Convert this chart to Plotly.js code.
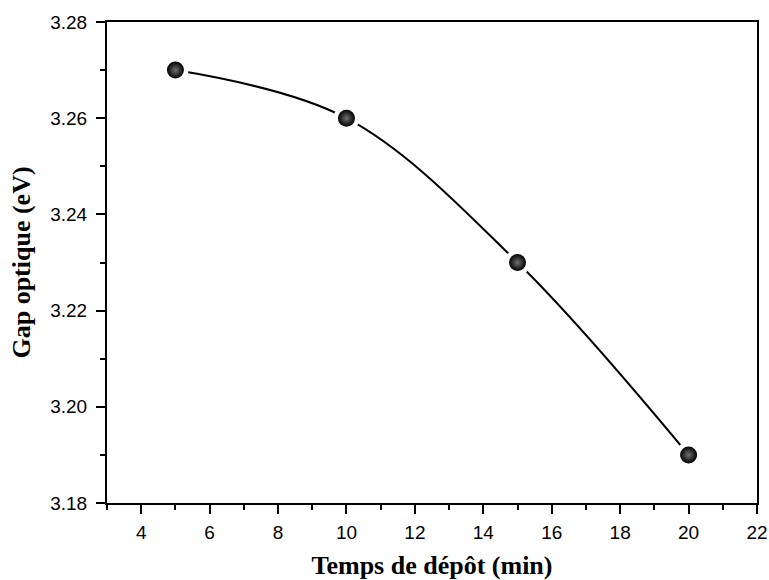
<!DOCTYPE html>
<html>
<head>
<meta charset="utf-8">
<script src="https://cdn.plot.ly/plotly-3.0.1.min.js"></script>
<style>html,body{margin:0;padding:0;background:#fff;}#chart{width:769px;height:580px;}</style>
</head>
<body>
<div id="chart"></div>
<script>
const depositTime = [5, 10, 15, 20];
const opticalGap = [3.27, 3.26, 3.23, 3.19];
const xTitle = 'Temps de dépôt (min)';
const yTitle = 'Gap optique (eV)';

const traces = [
  {
    x: depositTime, y: opticalGap, type: 'scatter', mode: 'lines+markers',
    line: {shape: 'spline', smoothing: 1, color: '#000', width: 2},
    marker: {size: 26, color: '#fff', line: {width: 0}},
    hoverinfo: 'skip', showlegend: false
  },
  {
    x: depositTime, y: opticalGap, type: 'scatter', mode: 'markers',
    marker: {size: 17, color: '#000', gradient: {type: 'radial', color: '#707070'}, line: {width: 0}},
    showlegend: false
  }
];

const layout = {
  width: 769, height: 580,
  margin: {l: 107, r: 12, t: 22, b: 77},
  paper_bgcolor: '#fff', plot_bgcolor: '#fff',
  font: {family: 'Liberation Sans, Arial, sans-serif', size: 18, color: '#000'},
  xaxis: {
    range: [3, 22], tick0: 4, dtick: 2, ticks: 'outside', ticklen: 9, tickwidth: 2, tickcolor: '#000',
    minor: {dtick: 1, ticks: 'outside', ticklen: 5, tickwidth: 2, tickcolor: '#000', showgrid: false},
    showline: true, linewidth: 2, linecolor: '#000', mirror: true, showgrid: false, zeroline: false,
    tickfont: {size: 19}, ticklabelstandoff: 2,
    title: {text: xTitle, font: {family: 'Liberation Serif, Times New Roman, serif', size: 26, weight: 'bold'}, standoff: 18}
  },
  yaxis: {
    range: [3.18, 3.28], tick0: 3.18, dtick: 0.02, tickformat: '.2f', ticks: 'outside', ticklen: 9, tickwidth: 2, tickcolor: '#000',
    minor: {dtick: 0.01, ticks: 'outside', ticklen: 5, tickwidth: 2, tickcolor: '#000', showgrid: false},
    showline: true, linewidth: 2, linecolor: '#000', mirror: true, showgrid: false, zeroline: false,
    tickfont: {size: 19}, ticklabelstandoff: 5,
    title: {text: yTitle, font: {family: 'Liberation Serif, Times New Roman, serif', size: 26, weight: 'bold'}, standoff: 12}
  }
};

Plotly.newPlot('chart', traces, layout, {displayModeBar: false, staticPlot: true});
</script>
</body>
</html>
